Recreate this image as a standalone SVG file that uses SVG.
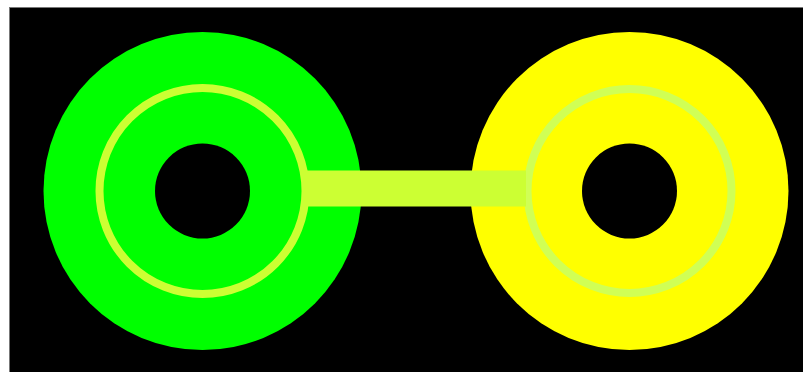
<svg xmlns="http://www.w3.org/2000/svg" width="803" height="372" viewBox="0 0 803 372">
<style>
.bg{fill:#000;stroke:#777;stroke-width:1}
.hole{fill:#000}
.ringg{fill:none;stroke:#ccff33;stroke-width:8}
.ringy{fill:none;stroke:#d0ff55;stroke-width:8}
.bar{fill:#ccff33}
</style>
<rect x="0" y="0" width="803" height="372" fill="#fff"/>
<rect class="bg" x="9.5" y="7.5" width="800" height="370"/>
<g id="node-green">
<circle cx="202.5" cy="191" r="159" fill="#00ff00"/>
<circle class="ringg" cx="202.5" cy="191" r="103"/>
<circle class="hole" cx="202.5" cy="191" r="47.5"/>
</g>
<g id="node-yellow">
<circle cx="629.5" cy="191" r="159" fill="#ffff00"/>
<circle class="ringy" cx="629.5" cy="191" r="102"/>
<circle class="hole" cx="629.5" cy="191" r="47.5"/>
</g>
<g id="connectors">
<rect class="bar" x="304" y="170.5" width="222" height="36"/>
</g>
</svg>
